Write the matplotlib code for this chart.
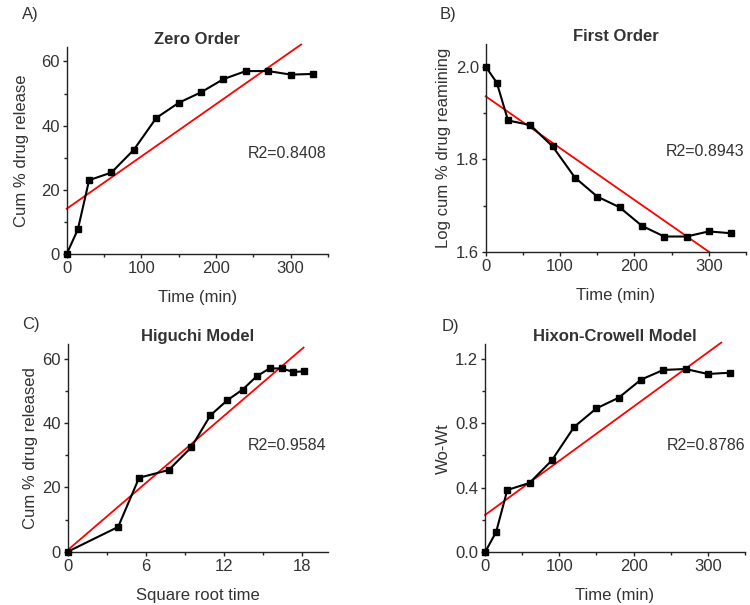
import matplotlib
matplotlib.use("Agg")
import matplotlib.pyplot as plt
from matplotlib.ticker import MultipleLocator
import numpy as np

plt.rcParams['font.family'] = ['Liberation Sans', 'DejaVu Sans']

# ---- data ----
time_min = [0, 15, 30, 60, 90, 120, 150, 180, 210, 240, 270, 300, 330]
cum_release = [0, 7.7, 23.0, 25.4, 32.5, 42.4, 47.1, 50.4, 54.5, 57.0, 57.0, 55.9, 56.1]
log_remaining = [2.0, 1.965, 1.884, 1.874, 1.828, 1.761, 1.720, 1.697, 1.657, 1.634, 1.634, 1.645, 1.641]
sqrt_time = [0, 3.87, 5.48, 7.75, 9.49, 10.95, 12.25, 13.42, 14.49, 15.49, 16.43, 17.32, 18.17]
wo_wt = [0, 0.126, 0.386, 0.430, 0.570, 0.777, 0.892, 0.958, 1.070, 1.130, 1.136, 1.105, 1.113]

# fitted lines (intercept, slope, x end)
fit_A = (14.1, 0.163, 314)
fit_B = (1.936, -0.001116, 301)
fit_C = (0.5, 3.48, 18.1)
fit_D = (0.231, 0.00336, 318)

r2_labels = ["R2=0.8408", "R2=0.8943", "R2=0.9584", "R2=0.8786"]
titles = ["Zero Order", "First Order", "Higuchi Model", "Hixon-Crowell Model"]
panel_letters = ["A)", "B)", "C)", "D)"]
xlabels = ["Time (min)", "Time (min)", "Square root time", "Time (min)"]
ylabels = ["Cum % drug release", "Log cum % drug reamining", "Cum % drug released", "Wo-Wt"]

W, H = 750, 605
fig = plt.figure(figsize=(W / 100, H / 100), dpi=100)

def px_axes(l, r, b, t):
    return fig.add_axes([l / W, 1 - b / H, (r - l) / W, (b - t) / H])

axA = px_axes(66.7, 328, 254, 47)
axB = px_axes(485.7, 746, 252.3, 44.3)
axC = px_axes(67.7, 328.3, 551.7, 344.3)
axD = px_axes(485, 745, 552.3, 344.3)

TC = '#333333'
FS = 12

specs = [
    (axA, time_min, cum_release, fit_A, (0, 350), (0, 64.5), 100, 50, 20, 10, (242, 31.4), 9),
    (axB, time_min, log_remaining, fit_B, (0, 350), (1.6, 2.048), 100, 50, 0.2, 0.1, (242, 1.817), 3),
    (axC, sqrt_time, cum_release, fit_C, (0, 20), (0, 64.5), 6, 3, 20, 10, (13.8, 33.0), 3),
    (axD, time_min, wo_wt, fit_D, (0, 350), (0, 1.289), 100, 50, 0.4, 0.2, (244, 0.661), 3),
]

for i, (ax, x, y, fit, xl, yl, xmaj, xmin, ymaj, ymin, r2pos, ylpad) in enumerate(specs):
    b0, b1, xend = fit
    fx = np.array([0, xend])
    ax.plot(fx, b0 + b1 * fx, color='#ff0000', lw=1.3, zorder=2, clip_on=False)
    ax.plot(x, y, color='black', lw=1.5, marker='s', ms=4.2, zorder=3, clip_on=False)
    ax.set_xlim(*xl)
    ax.set_ylim(*yl)
    ax.xaxis.set_major_locator(MultipleLocator(xmaj))
    ax.xaxis.set_minor_locator(MultipleLocator(xmin))
    ax.yaxis.set_major_locator(MultipleLocator(ymaj))
    ax.yaxis.set_minor_locator(MultipleLocator(ymin))
    if i in (1, 3):
        ax.yaxis.set_major_formatter(matplotlib.ticker.FormatStrFormatter('%.1f'))
    for s in ('top', 'right'):
        ax.spines[s].set_visible(False)
    for s in ('left', 'bottom'):
        ax.spines[s].set_linewidth(1.0)
        ax.spines[s].set_color('#222222')
    ax.tick_params(which='major', direction='out', length=3, width=1, colors='#222222',
                   labelsize=FS, labelcolor=TC, pad=2)
    ax.tick_params(which='minor', direction='out', length=2, width=1, colors='#222222')
    ax.set_xlabel(xlabels[i], fontsize=FS, color=TC, labelpad=10)
    ax.set_ylabel(ylabels[i], fontsize=FS, color=TC, labelpad=ylpad)
    ax.set_title(titles[i], fontsize=FS, fontweight='bold', color=TC, pad=2)
    ax.text(r2pos[0], r2pos[1], r2_labels[i], fontsize=FS - 0.5, color=TC, va='center', ha='left')

fig.text(22 / W, 1 - 14 / H, panel_letters[0], fontsize=FS, color=TC, va='center', ha='left')
fig.text(440 / W, 1 - 14 / H, panel_letters[1], fontsize=FS, color=TC, va='center', ha='left')
fig.text(22 / W, 1 - 325 / H, panel_letters[2], fontsize=FS, color=TC, va='center', ha='left')
fig.text(442 / W, 1 - 327 / H, panel_letters[3], fontsize=FS, color=TC, va='center', ha='left')

fig.savefig('out.png', dpi=100, facecolor='white')
